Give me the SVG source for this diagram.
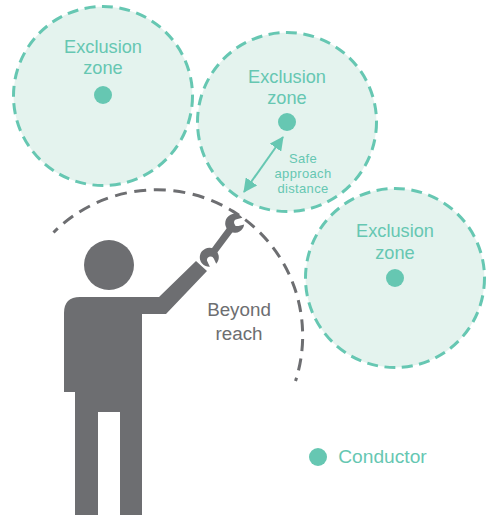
<svg xmlns="http://www.w3.org/2000/svg" width="491" height="515" viewBox="0 0 491 515">
<style>
.zone{fill:#e4f3ee;stroke:#66c7b2;stroke-width:3;stroke-dasharray:11 6.5}
.dot{fill:#66c7b2}
.lbl{font-family:"Liberation Sans",Arial,sans-serif;font-size:18.2px;fill:#66c7b2;text-anchor:middle}
.sm{font-family:"Liberation Sans",Arial,sans-serif;font-size:13px;letter-spacing:.35px;fill:#66c7b2;text-anchor:middle}
.grey{font-family:"Liberation Sans",Arial,sans-serif;font-size:18.8px;fill:#6d6e71;text-anchor:middle}
.fig{fill:#6d6e71}
</style>
<defs>
<marker id="ah" viewBox="0 0 14 14" refX="13" refY="7" markerWidth="14" markerHeight="14" markerUnits="userSpaceOnUse" orient="auto-start-reverse"><path d="M0 0L14 7L0 14Z" fill="#66c7b2"/></marker>
<path id="wrench-head" d="M8.83 -3.500H3A3.500 3.500 0 0 0 3 3.500H8.830A9.500 9.500 0 1 1 8.83 -3.500Z"/>
</defs>
<g id="zone-1"><circle class="zone" cx="103" cy="96" r="89.5"/><circle class="dot" cx="103" cy="95" r="9"/><text class="lbl" x="103" y="53">Exclusion</text><text class="lbl" x="103" y="74">zone</text></g>
<g id="zone-2"><circle class="zone" cx="287" cy="122" r="89.5"/><circle class="dot" cx="287" cy="122" r="9"/><text class="lbl" x="287" y="83">Exclusion</text><text class="lbl" x="287" y="104">zone</text><text class="sm" x="303" y="163">Safe</text><text class="sm" x="303" y="178">approach</text><text class="sm" x="303" y="193">distance</text></g>
<g id="zone-3"><circle class="zone" cx="395" cy="278" r="89.5"/><circle class="dot" cx="395" cy="278" r="9"/><text class="lbl" x="395" y="237">Exclusion</text><text class="lbl" x="395" y="259">zone</text></g>
<g id="connectors">
<path d="M283 137L244 192" fill="none" stroke="#66c7b2" stroke-width="2" marker-start="url(#ah)" marker-end="url(#ah)"/>
<path d="M53.500 232.500A146 146 0 0 1 295.500 381" fill="none" stroke="#6d6e71" stroke-width="3" stroke-dasharray="12 7.600" stroke-dashoffset="6"/>
</g>
<g id="person">
<circle class="fig" cx="109" cy="265" r="25"/>
<path class="fig" d="M80 297H159L196 261L207 271L166 314H142V515H120V412H98V515H75V392H64V313Q64 297 80 297Z"/>
<path d="M213 252.500L231 228.300" stroke="#6d6e71" stroke-width="7" fill="none"/>
<use href="#wrench-head" class="fig" transform="translate(234.700 223.300) rotate(-15)"/>
<use href="#wrench-head" class="fig" transform="translate(209.300 257.300) rotate(65)"/>
</g>
<g id="beyond-reach"><text class="grey" x="239" y="316">Beyond</text><text class="grey" x="239" y="340">reach</text></g>
<g id="legend"><circle class="dot" cx="318" cy="457" r="9"/><text class="lbl" x="382.500" y="463" style="font-size:19.200px">Conductor</text></g>
</svg>
